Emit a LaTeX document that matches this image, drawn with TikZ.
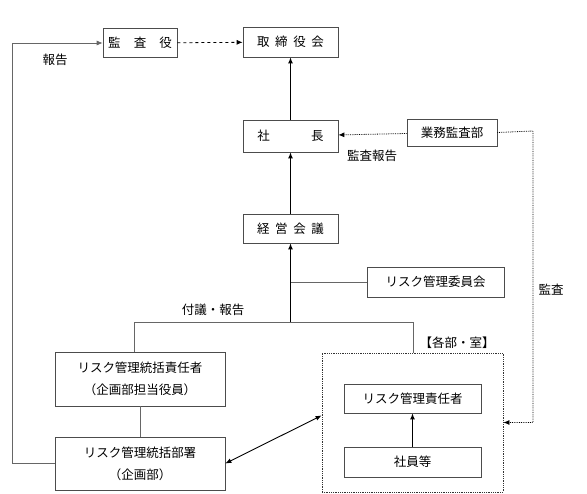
\documentclass[tikz,border=0pt]{standalone}
\usepackage{fontspec}
\newfontfamily\jpfont{Noto Sans CJK JP}
\usetikzlibrary{positioning,calc,arrows.meta}
\tikzset{
  box/.style={draw=black!70,line width=0.7pt,rectangle,inner sep=0pt,minimum height=29pt},
  region/.style={draw=black!80,densely dotted,line width=0.8pt,rectangle,inner sep=0pt},
  gline/.style={draw=black!60,line width=0.7pt},
  arr/.style={line width=1.1pt,-{Latex[length=6pt,width=5pt]}},
  dotarr/.style={line width=0.8pt,densely dotted,-{Latex[length=6pt,width=5pt]}},
  lbl/.style={inner sep=0pt}
}
\begin{document}
\begin{tikzpicture}[x=1pt,y=-1pt,font=\jpfont\fontsize{12.5}{22}\selectfont]
\useasboundingbox (0,0) rectangle (587,494);
% top row
\node (kansa) [box,minimum width=74pt] at (140,43) {監\hspace{1.05em}査\hspace{1.05em}役};
\node (torishimari) [box,minimum width=95pt,minimum height=30pt] at (290.5,42) {取\hspace{0.45em}締\hspace{0.45em}役\hspace{0.45em}会};
% president and audit
\node (shacho) [box,minimum width=95pt,minimum height=32pt] at (290.5,136) {社\hspace{3.3em}長};
\node (gyomu) [box,minimum width=90pt,minimum height=27pt] at (452,132.5) {業務監査部};
\node (keiei) [box,minimum width=95pt] at (290.5,228.5) {経\hspace{0.45em}営\hspace{0.45em}会\hspace{0.45em}議};
\node (iinkai) [box,minimum width=137pt,minimum height=30pt] at (435.5,282) {リスク管理委員会};
% left column
\node (sekinin) [box,minimum width=170pt,minimum height=54pt,align=center] at (140,379) {リスク管理統括責任者\\（企画部担当役員）};
\node (busho) [box,minimum width=170pt,minimum height=53pt,align=center] at (140,463.5) {リスク管理統括部署\\（企画部）};
% each department
\node (kakubu) [region,minimum width=181pt,minimum height=139pt] at (412.5,422.5) {};
\node (kanri) [box,minimum width=137pt] at (412.5,398.5) {リスク管理責任者};
\node (shain) [box,minimum width=137pt,minimum height=30pt] at (412.5,462) {社員等};
\node (kakubulbl) [lbl] at (457,343) {【各部・室】};

% labels
\node (hokokulbl) [lbl] at (55,60) {報告};
\node (kansahokoku) [lbl] at (372,156) {監査報告};
\node (kansalbl) [lbl] at (551,290) {監査};
\node (fugilbl) [lbl] at (213,310) {付議・報告};

\coordinate (hokoku) at (12,43);
\coordinate (fugiL) at (134,322);
\coordinate (fugiM) at (290.5,322);
\coordinate (fugiR) at (413,322);
\coordinate (kansaR) at (533,131);

% connectors
\draw[dashed,line width=0.8pt,-{Latex[length=6pt,width=5pt]}] (kansa) -- (torishimari);
\draw[arr] (shacho) -- (torishimari);
\draw[arr] (keiei) -- (shacho);
\draw[dotarr] (gyomu) -- (shacho);
\draw[dotarr] (gyomu.east) -- (kansaR) |- (kakubu.east);
\draw[gline] (sekinin.north -| fugiL) -- (fugiL) -- (fugiR) -- (kakubu.north -| fugiR);
\draw[gline] (iinkai.west) -- (iinkai.west -| fugiM);
\draw[arr] (fugiM) -- (keiei.south);
\draw[gline] (sekinin) -- (busho);
\draw[gline,-{Latex[length=6pt,width=5pt]}] (busho.west) -| (hokoku) -- (kansa.west);
\draw[line width=0.9pt,{Latex[length=6pt,width=5pt]}-{Latex[length=6pt,width=5pt]}] (busho.east) -- ([yshift=7pt]kakubu.west);
\draw[arr] (shain) -- (kanri);
\end{tikzpicture}
\end{document}
